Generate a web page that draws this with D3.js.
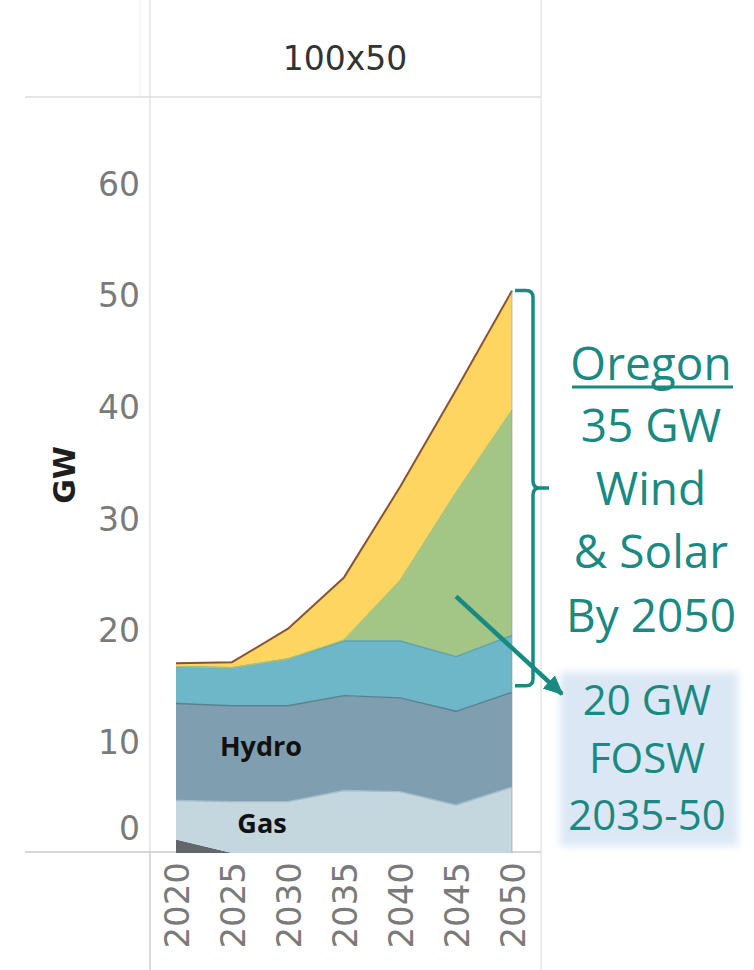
<!DOCTYPE html>
<html>
<head>
<meta charset="utf-8">
<script src="https://cdn.jsdelivr.net/npm/d3@7"></script>
<style>
  html, body { margin: 0; padding: 0; background: #ffffff; }
  svg { display: block; }
</style>
</head>
<body>
<svg id="chart" width="754" height="970"></svg>
<script>
// Installed capacity by resource (GW), scenario "100x50"
const years = [2020, 2025, 2030, 2035, 2040, 2045, 2050];
const coal = [1.2, 0, 0, 0, 0, 0, 0];
const gas = [3.5, 4.6, 4.6, 5.6, 5.5, 4.3, 5.9];
const hydro = [8.7, 8.6, 8.6, 8.5, 8.4, 8.4, 8.5];
const otherRenewables = [3.3, 3.4, 4.2, 4.9, 5.1, 4.9, 5.1];
const offshoreWind = [0, 0, 0, 0.1, 5.4, 14.7, 20.2];
const windSolar = [0.3, 0.5, 2.7, 5.6, 8.4, 9.2, 10.7];

const yTicks = [0, 10, 20, 30, 40, 50, 60];
const panelTitle = "100x50";
const yTitle = "GW";

const seriesKeys = ["coal", "gas", "hydro", "other", "fosw", "ws"];
const seriesFill = {
  coal: "#63676b", gas: "#c4d6de", hydro: "#7f9fb0",
  other: "#6db7c8", fosw: "#a3c687", ws: "#fdd560"
};
const seriesEdge = {
  coal: "#55595c", gas: "#a3bcc7", hydro: "#5a8191",
  other: "#5ba2b2", fosw: "#a9c47a", ws: "#8a5234"
};

const rows = years.map((yr, i) => ({
  year: yr, coal: coal[i], gas: gas[i], hydro: hydro[i],
  other: otherRenewables[i], fosw: offshoreWind[i], ws: windSolar[i]
}));

const svg = d3.select("#chart");
const axisFont = "DejaVu Sans, sans-serif";

// Pane frame
const paneLeft = 150, paneRight = 541, headerBottom = 97, axisY = 852;
const x = d3.scaleLinear().domain([2020, 2050]).range([176, 512]);
const y = d3.scaleLinear().domain([0, 60]).range([853, 183.5]);

const frame = svg.append("g").attr("fill", "none");
frame.append("line").attr("x1", 140).attr("x2", 140).attr("y1", 0).attr("y2", headerBottom)
  .attr("stroke", "#f1f1f1");
frame.append("line").attr("x1", paneLeft).attr("x2", paneLeft).attr("y1", 0).attr("y2", 970)
  .attr("stroke", "#e2e2e2").attr("stroke-width", 1.5);
frame.append("line").attr("x1", paneRight).attr("x2", paneRight).attr("y1", 0).attr("y2", 970)
  .attr("stroke", "#e6e6e6").attr("stroke-width", 1.5);
frame.append("line").attr("x1", 25).attr("x2", paneRight).attr("y1", headerBottom).attr("y2", headerBottom)
  .attr("stroke", "#dcdcdc").attr("stroke-width", 1.5);

// Header
svg.append("text")
  .attr("x", 345).attr("y", 70)
  .attr("text-anchor", "middle")
  .attr("font-family", axisFont)
  .attr("font-size", 33)
  .attr("fill", "#333333")
  .text(panelTitle);

// Stacked areas
const stack = d3.stack().keys(seriesKeys);
const layers = stack(rows);

const area = d3.area()
  .x(d => x(d.data.year))
  .y0(d => y(d[0]))
  .y1(d => y(d[1]));
const topLine = d3.line()
  .x(d => x(d.data.year))
  .y(d => y(d[1]));

const gLayers = svg.append("g");
gLayers.selectAll("path.area")
  .data(layers)
  .join("path")
  .attr("class", "area")
  .attr("d", area)
  .attr("fill", d => seriesFill[d.key]);

gLayers.selectAll("path.edge")
  .data(layers.filter(l => l.key !== "coal"))
  .join("path")
  .attr("class", "edge")
  .attr("d", topLine)
  .attr("fill", "none")
  .attr("stroke", d => seriesEdge[d.key])
  .attr("stroke-width", d => d.key === "ws" ? 2 : 1.4)
  .attr("stroke-linejoin", "round");

// right edge of the stacked series
const last = rows[rows.length - 1];
const lastTotal = seriesKeys.reduce((s, k) => s + last[k], 0);
gLayers.append("line")
  .attr("x1", x(last.year)).attr("x2", x(last.year))
  .attr("y1", y(0)).attr("y2", y(lastTotal))
  .attr("stroke", "#8a9a9c").attr("stroke-width", 1).attr("opacity", 0.6);

// Bottom rule
frame.append("line").attr("x1", 25).attr("x2", paneRight).attr("y1", axisY).attr("y2", axisY)
  .attr("stroke", "#d6d6d6").attr("stroke-width", 2);
svg.append("line").attr("x1", paneLeft).attr("x2", paneLeft).attr("y1", axisY).attr("y2", 970)
  .attr("stroke", "#d6d6d6").attr("stroke-width", 1.5);

// Y axis
const yAxis = svg.append("g")
  .attr("transform", `translate(${paneLeft},0)`)
  .call(d3.axisLeft(y).tickValues(yTicks).tickSize(0).tickPadding(10).tickFormat(d3.format("d")));
yAxis.select(".domain").remove();
yAxis.selectAll("text")
  .attr("font-family", axisFont)
  .attr("font-size", 33)
  .attr("fill", "#7a7a7a")
  .attr("dy", "0.36em");
// the lowest label sits inside the pane
yAxis.selectAll(".tick").filter(d => d === 0).select("text")
  .attr("transform", "translate(0,-25)");

svg.append("text")
  .attr("transform", `translate(75,475) rotate(-90)`)
  .attr("text-anchor", "middle")
  .attr("font-family", axisFont)
  .attr("font-weight", "bold")
  .attr("font-size", 30)
  .attr("fill", "#1e1e1e")
  .text(yTitle);

// X axis (rotated year labels)
const xAxis = svg.append("g")
  .attr("transform", `translate(0,${axisY})`)
  .call(d3.axisBottom(x).tickValues(years).tickSize(0).tickFormat(d3.format("d")));
xAxis.select(".domain").remove();
xAxis.selectAll("text")
  .attr("font-family", axisFont)
  .attr("font-size", 34)
  .attr("fill", "#7a7a7a")
  .attr("text-anchor", "end")
  .attr("transform", "rotate(-90)")
  .attr("x", -10)
  .attr("y", 0)
  .attr("dy", "0.36em");

// Series labels
const inLabel = svg.append("g")
  .attr("font-family", "Open Sans, Liberation Sans, sans-serif")
  .attr("font-weight", "bold")
  .attr("font-size", 27)
  .attr("fill", "#111111")
  .attr("text-anchor", "middle");
inLabel.append("text").attr("x", 261).attr("y", 756).text("Hydro");
inLabel.append("text").attr("x", 262).attr("y", 833).text("Gas");

// Annotation: bracket over wind & solar additions
const teal = "#198a82";
const bTop = y(lastTotal), bBot = y(15), bMid = (bTop + bBot) / 2;
const bx = 533, r = 7;
svg.append("path")
  .attr("d", `M515,${bTop} H${bx - r} Q${bx},${bTop} ${bx},${bTop + r} V${bMid - r} Q${bx},${bMid} ${bx + r},${bMid} H549
              M${bx + r},${bMid} Q${bx},${bMid} ${bx},${bMid + r} V${bBot - r} Q${bx},${bBot} ${bx - r},${bBot} H515`)
  .attr("fill", "none")
  .attr("stroke", teal)
  .attr("stroke-width", 3.5);

const note = svg.append("g")
  .attr("font-family", "Open Sans, Liberation Sans, sans-serif")
  .attr("font-size", 46)
  .attr("fill", teal)
  .attr("text-anchor", "middle");
const noteLines = ["Oregon", "35 GW", "Wind", "& Solar", "By 2050"];
const noteBase = [380, 442, 505, 568, 632];
noteLines.forEach((t, i) => {
  note.append("text").attr("x", 651).attr("y", noteBase[i]).text(t);
});
svg.append("line")
  .attr("x1", 572).attr("x2", 733).attr("y1", 387).attr("y2", 387)
  .attr("stroke", teal).attr("stroke-width", 3);

// Highlight box
const defs = svg.append("defs");
defs.append("filter").attr("id", "soft").attr("x", "-20%").attr("y", "-20%").attr("width", "140%").attr("height", "140%")
  .append("feGaussianBlur").attr("stdDeviation", 4);
defs.append("marker")
  .attr("id", "head")
  .attr("markerUnits", "userSpaceOnUse")
  .attr("viewBox", "0 0 20 20")
  .attr("refX", 18).attr("refY", 10)
  .attr("markerWidth", 20).attr("markerHeight", 20)
  .attr("orient", "auto")
  .append("path")
  .attr("d", "M0,1 L20,10 L0,19 Z")
  .attr("fill", teal);

svg.append("rect")
  .attr("x", 560).attr("y", 672).attr("width", 178).attr("height", 174)
  .attr("fill", "#dbe7f4")
  .attr("filter", "url(#soft)");

const boxText = svg.append("g")
  .attr("font-family", "Open Sans, Liberation Sans, sans-serif")
  .attr("font-size", 42)
  .attr("fill", teal)
  .attr("text-anchor", "middle");
[["20 GW", 715], ["FOSW", 773], ["2035-50", 830]].forEach(([t, b]) => {
  boxText.append("text").attr("x", 647).attr("y", b).text(t);
});

// Arrow from the offshore wind layer to the box
svg.append("line")
  .attr("x1", x(2045)).attr("y1", y(23))
  .attr("x2", 562).attr("y2", 694)
  .attr("stroke", teal)
  .attr("stroke-width", 4.5)
  .attr("marker-end", "url(#head)");
</script>
</body>
</html>
